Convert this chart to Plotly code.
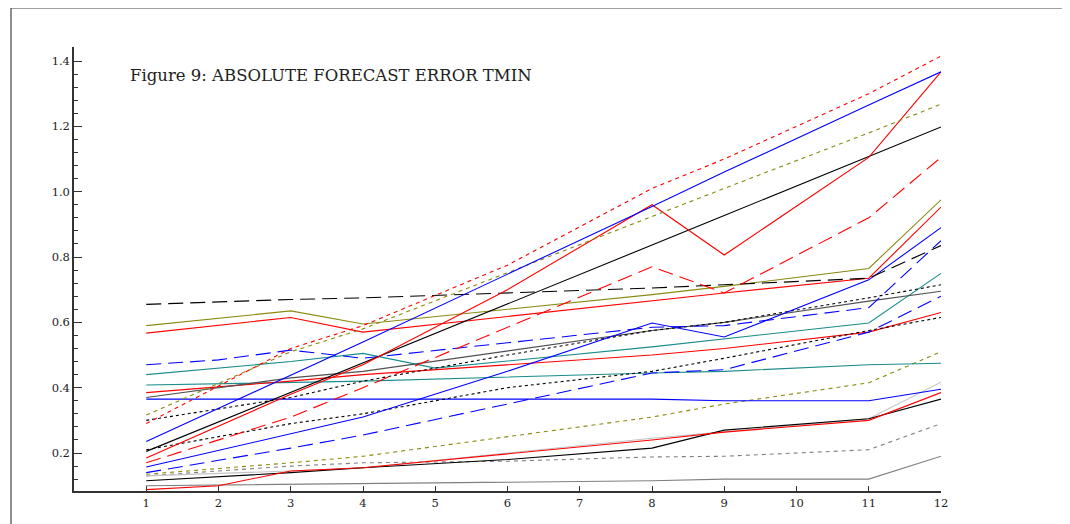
import plotly.graph_objects as go

# ---- data ----
x_a = [1, 3, 4, 8, 9, 11, 12]
x_b = [1, 3, 4, 6, 8, 9, 11, 12]
x_c = [1, 2, 3, 4, 8, 9, 11, 12]
x_teal = [1, 3, 4, 5, 8, 9, 11, 12]
x_flat = [1, 8, 9, 11, 12]

red_dot_hi = [0.29, 0.52, 0.59, 0.775, 1.01, 1.10, 1.30, 1.415]
blue_hi = [0.235, 0.44, 0.54, 0.955, 1.06, 1.265, 1.367]
olive_dot_hi = [0.316, 0.51, 0.58, 0.925, 1.01, 1.18, 1.268]
red_peak = [0.185, 0.38, 0.47, 0.70, 0.96, 0.806, 1.105, 1.367]
black_hi = [0.205, 0.385, 0.475, 0.837, 0.927, 1.108, 1.198]
red_ldash_hi = [0.17, 0.31, 0.40, 0.77, 0.69, 0.92, 1.105]
black_ldash = [0.655, 0.67, 0.675, 0.705, 0.715, 0.735, 0.835]
olive_solid = [0.59, 0.635, 0.595, 0.685, 0.71, 0.765, 0.975]
red_solid_hi = [0.567, 0.615, 0.57, 0.665, 0.69, 0.735, 0.953]
blue_bump = [0.157, 0.26, 0.31, 0.45, 0.598, 0.555, 0.73, 0.89]
blue_ldash_hi = [0.47, 0.485, 0.515, 0.49, 0.585, 0.59, 0.645, 0.85]
blue_ldash_lo = [0.14, 0.215, 0.255, 0.35, 0.445, 0.455, 0.57, 0.68]
teal_hi = [0.44, 0.48, 0.505, 0.46, 0.525, 0.55, 0.598, 0.75]
teal_lo = [0.408, 0.415, 0.42, 0.445, 0.45, 0.47, 0.475]
red_solid_mid = [0.385, 0.42, 0.44, 0.50, 0.52, 0.57, 0.63]
gray_dark = [0.37, 0.43, 0.45, 0.575, 0.60, 0.665, 0.695]
blue_flat = [0.365, 0.365, 0.36, 0.36, 0.395]
black_dot_hi = [0.30, 0.37, 0.42, 0.50, 0.575, 0.60, 0.675, 0.715]
black_dot_lo = [0.21, 0.29, 0.32, 0.40, 0.45, 0.49, 0.575, 0.615]
olive_dot_lo = [0.135, 0.17, 0.19, 0.31, 0.35, 0.415, 0.51]
light_gray = [0.13, 0.145, 0.155, 0.245, 0.265, 0.305, 0.417]
red_lo = [0.088, 0.10, 0.145, 0.155, 0.24, 0.264, 0.30, 0.385]
black_lo = [0.115, 0.14, 0.155, 0.18, 0.215, 0.27, 0.305, 0.365]
gray_dash = [0.13, 0.16, 0.17, 0.175, 0.188, 0.19, 0.21, 0.29]
gray_lo = [0.10, 0.115, 0.12, 0.12, 0.19]

x_ticks = list(range(1, 13))
y_ticks = [0.2, 0.4, 0.6, 0.8, 1.0, 1.2, 1.4]
title_text = "Figure 9: ABSOLUTE FORECAST ERROR TMIN"

# ---- styles ----
RED, BLUE, BLACK = "#ff0000", "#0000ff", "#000000"
OLIVE, TEAL = "#8a8a10", "#1a8c8c"
GRAY, LGRAY, DGRAY = "#808080", "#c4c4c4", "#505050"
SHORT = "4px,4px"
LONG = "15px,7px"
DOTB = "3px,3px"

series = [
    (x_flat, gray_lo, GRAY, "solid"),
    (x_b, gray_dash, GRAY, SHORT),
    (x_a, light_gray, LGRAY, "solid"),
    (x_b, black_lo, BLACK, "solid"),
    (x_c, red_lo, RED, "solid"),
    (x_a, olive_dot_lo, OLIVE, SHORT),
    (x_flat, blue_flat, BLUE, "solid"),
    (x_a, teal_lo, TEAL, "solid"),
    (x_teal, teal_hi, TEAL, "solid"),
    (x_a, red_solid_mid, RED, "solid"),
    (x_a, gray_dark, DGRAY, "solid"),
    (x_b, black_dot_lo, BLACK, DOTB),
    (x_b, black_dot_hi, BLACK, DOTB),
    (x_b, blue_ldash_lo, BLUE, LONG),
    (x_c, blue_ldash_hi, BLUE, LONG),
    (x_b, blue_bump, BLUE, "solid"),
    (x_a, red_solid_hi, RED, "solid"),
    (x_a, olive_solid, OLIVE, "solid"),
    (x_a, black_ldash, BLACK, LONG),
    (x_a, red_ldash_hi, RED, LONG),
    (x_a, black_hi, BLACK, "solid"),
    (x_b, red_peak, RED, "solid"),
    (x_a, olive_dot_hi, OLIVE, SHORT),
    (x_a, blue_hi, BLUE, "solid"),
    (x_b, red_dot_hi, RED, SHORT),
]

fig = go.Figure()
for xs, ys, col, dash in series:
    fig.add_trace(go.Scatter(x=xs, y=ys, mode="lines",
                             line=dict(color=col, width=1.1, dash=dash),
                             showlegend=False, hoverinfo="skip"))

SERIF = "DejaVu Serif, Liberation Serif, serif"
tick_font = dict(family=SERIF, size=11.5, color="#222222")

# page body adds an 8px offset: figure px = screen px - 8
W, H = 1062, 516
L, R, T, B = 66, 129, 39, 33
pw, ph = W - L - R, H - T - B

def px(xs):
    return (xs - 8 - L) / pw

def py(ys):
    return (H - B - (ys - 8)) / ph

frame = dict(color="#444444", width=1.2)
shapes = [
    dict(type="line", xref="paper", yref="paper", x0=px(11), x1=px(1063), y0=py(8), y1=py(8), line=frame),
    dict(type="line", xref="paper", yref="paper", x0=px(11), x1=px(11), y0=py(8), y1=py(530), line=frame),
    dict(type="line", xref="paper", yref="paper", x0=px(1063), x1=px(1063), y0=py(8), y1=py(530), line=frame),
]

fig.update_layout(
    width=W, height=H,
    margin=dict(l=L, r=R, t=T, b=B),
    paper_bgcolor="white", plot_bgcolor="white",
    showlegend=False,
    xaxis=dict(range=[0, 12], tickmode="array", tickvals=x_ticks,
               ticktext=[str(v) for v in x_ticks],
               showgrid=False, zeroline=False, showline=True,
               linecolor="#333333", linewidth=1.5,
               ticks="inside", ticklen=5, tickwidth=1.2, tickcolor="#333333",
               tickfont=tick_font),
    yaxis=dict(range=[0.0837, 1.4429], tickmode="array", tickvals=y_ticks,
               ticktext=["%.1f" % v for v in y_ticks],
               showgrid=False, zeroline=False, showline=True,
               linecolor="#333333", linewidth=1.5,
               ticks="inside", ticklen=8, tickwidth=1.2, tickcolor="#333333",
               tickfont=tick_font,
               minor=dict(dtick=0.04, tick0=0.0, ticks="inside", ticklen=4,
                          tickwidth=1, tickcolor="#333333", showgrid=False)),
    shapes=shapes,
    annotations=[dict(text=title_text, xref="paper", yref="paper",
                      x=px(128), y=py(75),
                      xanchor="left", yanchor="middle", showarrow=False,
                      font=dict(family=SERIF, size=16.5, color="#222222"))],
)

fig.write_html("out.html")
